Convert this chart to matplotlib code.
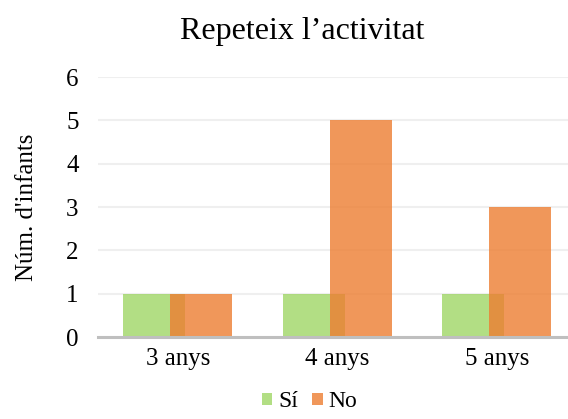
import matplotlib
matplotlib.use("Agg")
import matplotlib.pyplot as plt
import numpy as np

categories = ["3 anys", "4 anys", "5 anys"]
si_values = [1, 1, 1]
no_values = [1, 5, 3]
series_labels = ["Sí", "No"]
title = "Repeteix l\u2019activitat"
ylabel = "Núm. d'infants"

plt.rcParams['font.family'] = ['Liberation Serif', 'DejaVu Serif']

fig = plt.figure(figsize=(5.68, 4.19), dpi=100)
ax = fig.add_axes([0.1725, 0.1957, 1 - 0.1725, 0.816 - 0.1957])

x = np.arange(len(categories))
w = 0.39
off = 0.147
ax.bar(x - off, si_values, w, color='#92d050', alpha=0.7, label=series_labels[0], zorder=2)
ax.bar(x + off, no_values, w, color='#ed7d31', alpha=0.8, label=series_labels[1], zorder=3)

ax.set_xlim(-0.5, 2.447)
ax.set_ylim(0, 6)
ax.set_yticks(range(0, 7))
ax.set_xticks(x)
ax.set_xticklabels(categories)
ax.grid(axis='y', color='#efefef', linewidth=1.5, zorder=0)
ax.set_axisbelow(True)
for s in ['top', 'right', 'left']:
    ax.spines[s].set_visible(False)
ax.spines['bottom'].set_color('#bfbfbf')
ax.spines['bottom'].set_linewidth(2.2)
ax.spines['bottom'].set_zorder(4)
ax.tick_params(axis='both', length=0, labelsize=18, colors='black')
ax.tick_params(axis='y', pad=14)
ax.tick_params(axis='x', pad=8)
ax.set_ylabel(ylabel, fontsize=18, labelpad=20)

fig.suptitle(title, fontsize=23, x=0.533, y=0.96)

leg = fig.legend(loc='lower center', bbox_to_anchor=(0.545, -0.035), ncol=2, frameon=False,
                 fontsize=17, handlelength=0.45, handleheight=0.45, handletextpad=0.25,
                 columnspacing=0.6)

fig.savefig("out.png", dpi=100)
